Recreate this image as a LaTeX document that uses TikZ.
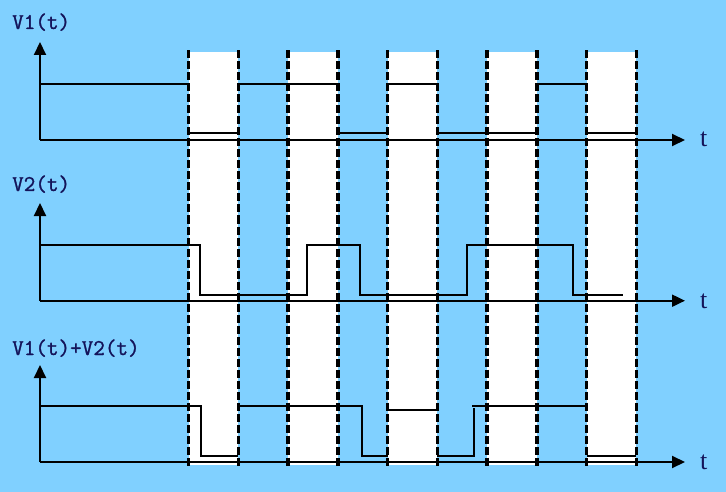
\documentclass[tikz,border=0pt]{standalone}
\usepackage{fontspec}
\newfontfamily\tfont{Liberation Serif}
\newfontfamily\vfont{Latin Modern Mono}[FakeBold=1.2]
\usetikzlibrary{arrows.meta}
\definecolor{bg}{RGB}{128,208,255}
\definecolor{lbl}{RGB}{20,20,90}
\begin{document}
\begin{tikzpicture}[x=1pt,y=-1pt,
  axis/.style={line width=2pt,-{Triangle[length=13pt,width=12pt]}},
  wave/.style={line width=2pt,line join=miter},
  sep/.style={line width=3.5pt,dash pattern=on 8pt off 3pt},
  ylab/.style={anchor=base west,inner sep=0pt,text=lbl,font=\fontsize{22.5}{22.5}\selectfont\vfont\bfseries},
  tlab/.style={anchor=base west,inner sep=0pt,text=lbl,font=\fontsize{26}{26}\selectfont\tfont}]
\useasboundingbox (0,0) rectangle (726,492);
\fill[bg] (0,0) rectangle (726,492);
% white stripes
\foreach \a/\b in {188.5/238.25,288/337.75,387.5/437.25,487/536.75,586.5/636.25}
  \fill[white] (\a,52) rectangle (\b,465);
% axes
\coordinate (o1) at (40,140); \coordinate (y1) at (40,42); \coordinate (x1) at (685,140);
\coordinate (o2) at (40,300.7); \coordinate (y2) at (40,203); \coordinate (x2) at (685,300.7);
\coordinate (o3) at (40,462); \coordinate (y3) at (40,365); \coordinate (x3) at (685,462);
\draw[axis] (o1) -- (y1); \draw[axis] (o1) -- (x1);
\draw[axis] (o2) -- (y2); \draw[axis] (o2) -- (x2);
\draw[axis] (o3) -- (y3); \draw[axis] (o3) -- (x3);
\node[ylab] (l1) at (12,29) {V1(t)};
\node[ylab] (l2) at (12,191) {V2(t)};
\node[ylab] (l3) at (12,355) {V1(t)+V2(t)};
\node[tlab] (t1) at (700,147) {t};
\node[tlab] (t2) at (700,308) {t};
\node[tlab] (t3) at (700,469) {t};
% V1 waveform
\draw[wave] (40,84) -- (188.5,84);
\draw[wave] (188.5,133) -- (238.25,133);
\draw[wave] (238.25,84) -- (337.75,84);
\draw[wave] (337.75,133) -- (387.5,133);
\draw[wave] (387.5,84) -- (437.25,84);
\draw[wave] (437.25,133) -- (536.75,133);
\draw[wave] (536.75,84) -- (586.5,84);
\draw[wave] (586.5,133) -- (636.25,133);
% V2 waveform
\draw[wave] (40,245) -- (200,245) -- (200,295) -- (307,295) -- (307,245) -- (360,245) -- (360,295)
  -- (467,295) -- (467,245) -- (573,245) -- (573,295) -- (623,295);
% V1+V2 waveform
\draw[wave] (40,406) -- (201,406) -- (201,456) -- (238.25,456);
\draw[wave] (238.25,406) -- (362,406) -- (362,456) -- (387.5,456);
\draw[wave] (387.5,410) -- (437.25,410);
\draw[wave] (437.25,456) -- (474,456) -- (474,408);
\draw[wave] (472,406) -- (586.5,406);
\draw[wave] (586.5,456) -- (636.25,456);
% dashed separators
\foreach \x in {188.5,238.25,288,337.75,387.5,437.25,487,536.75,586.5,636.25}
  \draw[sep] (\x,50.5) -- (\x,466);
\end{tikzpicture}
\end{document}
